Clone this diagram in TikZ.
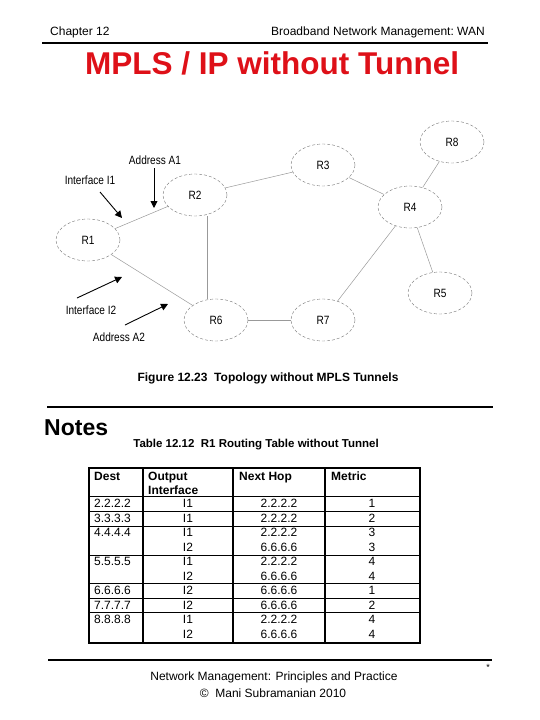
\documentclass[tikz,border=0pt]{standalone}
\usepackage{fontspec}
\setmainfont{Liberation Sans}
\newfontfamily\narrowfont{Liberation Sans}[FakeStretch=0.84]
\usetikzlibrary{shapes.geometric,arrows.meta}
\definecolor{titlered}{RGB}{222,16,24}
\begin{document}
\begin{tikzpicture}[x=1pt,y=-1pt,
  router/.style={ellipse,draw=black!55,densely dashed,line width=0.4pt,
    minimum width=64pt,minimum height=42pt,inner sep=0pt,
    font=\narrowfont\fontsize{12}{14}\selectfont},
  link/.style={draw=black!40,line width=0.5pt},
  ptr/.style={-{Triangle[length=7pt,width=7pt]},line width=0.9pt},
  lbl/.style={font=\narrowfont\fontsize{12}{14}\selectfont,inner sep=0pt},
  rulel/.style={line width=2pt},
  grid/.style={line width=1.1pt},
  hd/.style={font=\bfseries\fontsize{12}{14}\selectfont,inner sep=0pt,anchor=base west},
  dst/.style={font=\fontsize{12}{14}\selectfont,inner sep=0pt,anchor=base west},
  val/.style={font=\fontsize{12}{14}\selectfont,inner sep=0pt,anchor=base},
  foot/.style={font=\fontsize{12}{14}\selectfont,inner sep=0pt},
]
\useasboundingbox (0,0) rectangle (540,720);
% header
\node[font=\fontsize{12}{14}\selectfont,inner sep=0pt,anchor=base west] (chap) at (50,35) {Chapter 12};
\node[font=\fontsize{12}{14}\selectfont,inner sep=0pt,anchor=base east] (bnm) at (485,35) {Broadband Network Management:\ WAN};
\coordinate (h1) at (42,43); \coordinate (h2) at (488,43);
\draw[rulel] (h1) -- (h2);
\node[font=\bfseries\fontsize{31.5}{34}\selectfont,text=titlered,inner sep=0pt,anchor=base] (title) at (272,74) {MPLS / IP without Tunnel};
% routers
\node[router] (R1) at (88,240) {R1};
\node[router] (R2) at (195,195) {R2};
\node[router] (R3) at (323,165) {R3};
\node[router] (R4) at (410,207) {R4};
\node[router] (R5) at (440,293) {R5};
\node[router] (R6) at (216,320) {R6};
\node[router] (R7) at (323,320) {R7};
\node[router] (R8) at (452,142) {R8};
\draw[link] (R1) -- (R2);
\draw[link] (R1) -- (R6);
\draw[link] (R2.south) ++(12,0) coordinate (r2s) -- (r2s |- R6.north);
\draw[link] (R2) -- (R3);
\draw[link] (R6) -- (R7);
\draw[link] (R3) -- (R4);
\draw[link] (R4) -- (R8);
\draw[link] (R4) -- (R7);
\draw[link] (R4) -- (R5);
% labels and pointers
\node[lbl] (A1) at (155,160) {Address A1};
\node[lbl] (I1) at (90,180) {Interface I1};
\node[lbl] (I2) at (91,310) {Interface I2};
\node[lbl] (A2) at (119,337) {Address A2};
\coordinate (a1s) at (154,168); \coordinate (a1t) at (154,208);
\coordinate (i1s) at (100,192); \coordinate (i1t) at (122,218);
\coordinate (i2s) at (77,298);  \coordinate (i2t) at (122,277);
\coordinate (a2s) at (125,325); \coordinate (a2t) at (168,304);
\draw[ptr] (a1s) -- (a1t);
\draw[ptr] (i1s) -- (i1t);
\draw[ptr] (i2s) -- (i2t);
\draw[ptr] (a2s) -- (a2t);
\node[font=\bfseries\fontsize{12}{14}\selectfont,inner sep=0pt] (fig) at (268,378) {Figure 12.23\ \ Topology without MPLS Tunnels};
% notes
\coordinate (n1) at (47,407); \coordinate (n2) at (493,407);
\draw[rulel] (n1) -- (n2);
\node[font=\bfseries\fontsize{23}{26}\selectfont,inner sep=0pt,anchor=base west] (notes) at (44,435) {Notes};
\node[font=\bfseries\fontsize{11.5}{13}\selectfont,inner sep=0pt] (tcap) at (256,445) {Table 12.12\ \ R1 Routing Table without Tunnel};
% table grid
\draw[grid] (89,468) rectangle (420,643);
\foreach \yy in {496,511,526,555,583,598,612} \draw[line width=1pt] (89,\yy) -- (420,\yy);
\foreach \xx in {143,233,325} \draw[grid] (\xx,468) -- (\xx,643);
% header
\node[hd] (hdest) at (94,480) {Dest};
\node[hd] (hout) at (148,480) {Output};
\node[hd] (hint) at (148,494.5) {Interface};
\node[hd] (hnext) at (239,480) {Next Hop};
\node[hd] (hmet) at (331,480) {Metric};
% rows
\node[dst] (d1) at (94,507.5) {2.2.2.2};
\node[dst] (d2) at (94,522) {3.3.3.3};
\node[dst] (d3) at (94,536.5) {4.4.4.4};
\node[dst] (d5) at (94,565.5) {5.5.5.5};
\node[dst] (d7) at (94,594.5) {6.6.6.6};
\node[dst] (d8) at (94,609) {7.7.7.7};
\node[dst] (d9) at (94,623.5) {8.8.8.8};
\foreach \yy/\ii/\hh/\mm [count=\r] in {507.5/I1/2.2.2.2/1, 522/I1/2.2.2.2/2, 536.5/I1/2.2.2.2/3, 551/I2/6.6.6.6/3, 565.5/I1/2.2.2.2/4, 580/I2/6.6.6.6/4, 594.5/I2/6.6.6.6/1, 609/I2/6.6.6.6/2, 623.5/I1/2.2.2.2/4, 638/I2/6.6.6.6/4}{
  \node[val] (o\r) at (188,\yy) {\ii};
  \node[val] (n\r) at (279,\yy) {\hh};
  \node[val] (m\r) at (372,\yy) {\mm};
}
% footer
\coordinate (f1) at (48,660); \coordinate (f2) at (492,660);
\draw[rulel] (f1) -- (f2);
\node[font=\fontsize{9}{10}\selectfont,inner sep=0pt] (star) at (488,667) {*};
\node[foot] (ft1) at (274,677) {Network Management: Principles and Practice};
\node[foot] (ft2) at (273,693) {©\ \ Mani Subramanian 2010};
\end{tikzpicture}
\end{document}
